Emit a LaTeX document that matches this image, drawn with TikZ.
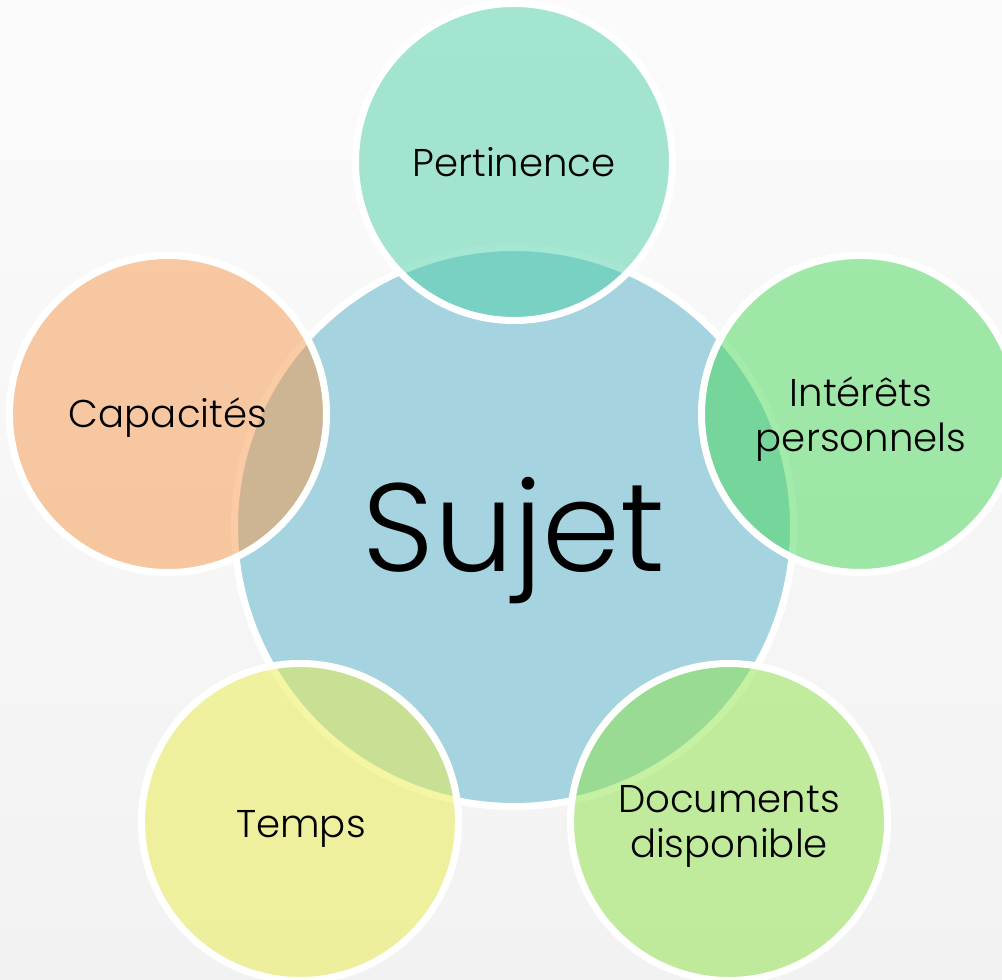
\documentclass[tikz,border=0pt]{standalone}
\usepackage{fontspec}
\setmainfont{Poppins}[UprightFont=* Light]
\definecolor{bgtop}{RGB}{251,251,251}
\definecolor{bgbot}{RGB}{242,242,242}
\definecolor{hubblue}{RGB}{165,211,224}
\definecolor{cpert}{RGB}{76,208,166}
\definecolor{ccapa}{RGB}{246,152,74}
\definecolor{cinte}{RGB}{72,216,88}
\definecolor{ctemps}{RGB}{236,238,72}
\definecolor{cdocs}{RGB}{142,228,70}
\tikzset{
  hub/.style={circle, inner sep=0pt, outer sep=0pt, minimum size=419.25pt,
    fill=hubblue, draw=white, line width=5.25pt},
  petal/.style={circle, inner sep=0pt, outer sep=0pt, minimum size=237.75pt,
    fill=#1, fill opacity=0.5, draw=white, draw opacity=1, line width=5.25pt},
  lbl/.style={anchor=base, inner sep=0pt, text=black, align=center,
    font=\fontsize{29pt}{33.75pt}\selectfont},
  biglbl/.style={anchor=base, inner sep=0pt, text=black,
    font=\fontsize{94pt}{104pt}\selectfont}
}
\begin{document}
\begin{tikzpicture}[x=0.75pt,y=0.75pt]
\useasboundingbox (0,0) rectangle (1002,979);
\shade[top color=bgtop, bottom color=bgbot] (0,0) rectangle (1002,979);
\node[hub] (sujet) at (514,452) {};
\node[petal=cpert] (pert) at (514,817) {};
\node[petal=ccapa] (capa) at (168,565) {};
\node[petal=cinte] (inte) at (860,565) {};
\node[petal=ctemps] (temps) at (300,157) {};
\node[petal=cdocs] (docs) at (729,157) {};
\node[biglbl] (tsujet) at (514,408) {Sujet};
\node[lbl] (tpert) at (514,802) {Pertinence};
\node[lbl] (tcapa) at (168,551) {Capacités};
\node[lbl] (tinte) at (861,527) {Intérêts\\personnels};
\node[lbl] (ttemps) at (301,142) {Temps};
\node[lbl] (tdocs) at (729,122) {Documents\\disponible};
\end{tikzpicture}
\end{document}
